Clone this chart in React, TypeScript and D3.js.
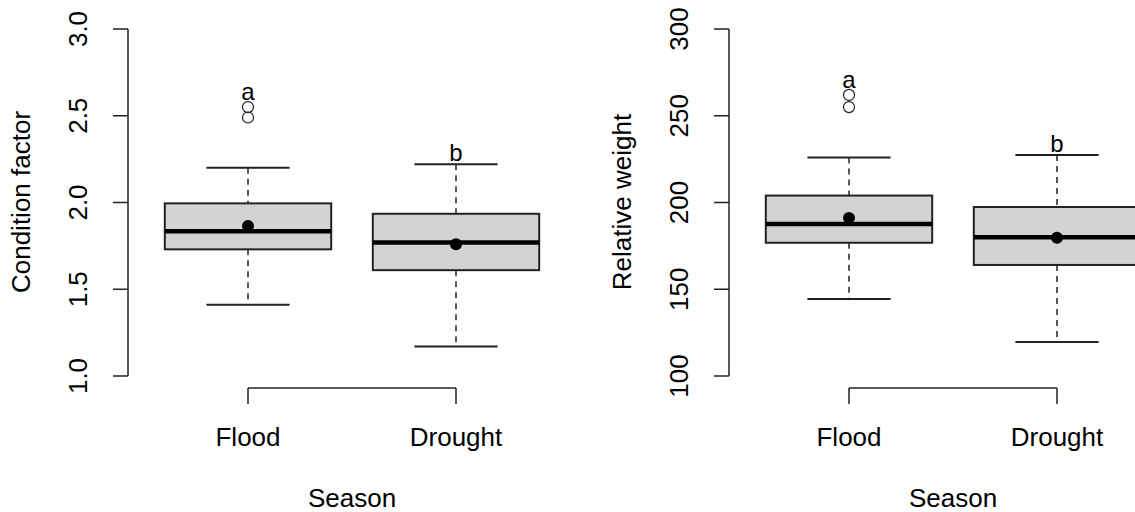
import React from "react";
import * as d3 from "d3";

const categories = ["Flood", "Drought"];
const letters = ["a", "b"];

// Condition factor
const cfQ1 = [1.73, 1.61];
const cfMedian = [1.835, 1.77];
const cfQ3 = [1.995, 1.935];
const cfLow = [1.41, 1.17];
const cfHigh = [2.2, 2.22];
const cfMean = [1.865, 1.76];
const cfOutliers = [[2.49, 2.55], []];
const cfTicks = [1.0, 1.5, 2.0, 2.5, 3.0];

// Relative weight
const rwQ1 = [176.8, 164];
const rwMedian = [187.6, 180];
const rwQ3 = [204, 197.4];
const rwLow = [144.4, 119.6];
const rwHigh = [226, 227.4];
const rwMean = [191, 179.7];
const rwOutliers = [[255, 262], []];
const rwTicks = [100, 150, 200, 250, 300];

const FONT = "'Liberation Sans', Arial, sans-serif";
const STROKE = "#222";

type PanelProps = {
  offsetX: number;
  yTitle: string;
  ticks: number[];
  fmt: (v: number) => string;
  q1: number[];
  median: number[];
  q3: number[];
  low: number[];
  high: number[];
  mean: number[];
  outliers: number[][];
};

function Panel(p: PanelProps) {
  const x = d3.scaleLinear().domain([0.5, 2.5]).range([144 + p.offsetX, 560 + p.offsetX]);
  const y = d3
    .scaleLinear()
    .domain([p.ticks[0], p.ticks[p.ticks.length - 1]])
    .range([376, 29]);
  const axisX = 128 + p.offsetX;
  const unit = x(2) - x(1);
  const boxHalf = 0.4 * unit;
  const capHalf = 0.2 * unit;
  const fs = 26;
  return (
    <g>
      {/* y axis */}
      <line x1={axisX} x2={axisX} y1={y(p.ticks[0])} y2={y(p.ticks[p.ticks.length - 1])} stroke={STROKE} strokeWidth={1.5} />
      {p.ticks.map((t) => (
        <g key={t}>
          <line x1={axisX - 15} x2={axisX} y1={y(t)} y2={y(t)} stroke={STROKE} strokeWidth={1.5} />
          <text
            transform={`translate(${axisX - 41},${y(t)}) rotate(-90)`}
            textAnchor="middle"
            fontSize={fs}
            fontFamily={FONT}
            fill="#000"
          >
            {p.fmt(t)}
          </text>
        </g>
      ))}
      <text
        transform={`translate(${30 + p.offsetX},${202}) rotate(-90)`}
        textAnchor="middle"
        fontSize={fs}
        fontFamily={FONT}
        fill="#000"
      >
        {p.yTitle}
      </text>
      {/* x axis */}
      <line x1={x(1)} x2={x(2)} y1={388} y2={388} stroke={STROKE} strokeWidth={1.5} />
      {categories.map((c, i) => (
        <g key={c}>
          <line x1={x(i + 1)} x2={x(i + 1)} y1={388} y2={404} stroke={STROKE} strokeWidth={1.5} />
          <text x={x(i + 1)} y={446} textAnchor="middle" fontSize={fs} fontFamily={FONT} fill="#000">
            {c}
          </text>
        </g>
      ))}
      <text x={(x(1) + x(2)) / 2} y={507} textAnchor="middle" fontSize={fs} fontFamily={FONT} fill="#000">
        Season
      </text>
      {/* boxes */}
      {categories.map((c, i) => {
        const cx = x(i + 1);
        const outs = p.outliers[i];
        const topVal = Math.max(p.high[i], ...outs);
        const letterY = y(topVal) - (outs.length ? 7 : 3);
        return (
          <g key={c}>
            <line x1={cx} x2={cx} y1={y(p.high[i])} y2={y(p.q3[i])} stroke={STROKE} strokeWidth={1.5} strokeDasharray="6,5" />
            <line x1={cx} x2={cx} y1={y(p.q1[i])} y2={y(p.low[i])} stroke={STROKE} strokeWidth={1.5} strokeDasharray="6,5" />
            <line x1={cx - capHalf} x2={cx + capHalf} y1={y(p.high[i])} y2={y(p.high[i])} stroke={STROKE} strokeWidth={2} />
            <line x1={cx - capHalf} x2={cx + capHalf} y1={y(p.low[i])} y2={y(p.low[i])} stroke={STROKE} strokeWidth={2} />
            <rect
              x={cx - boxHalf}
              y={y(p.q3[i])}
              width={2 * boxHalf}
              height={y(p.q1[i]) - y(p.q3[i])}
              fill="#d3d3d3"
              stroke={STROKE}
              strokeWidth={2}
            />
            <line x1={cx - boxHalf} x2={cx + boxHalf} y1={y(p.median[i])} y2={y(p.median[i])} stroke="#000" strokeWidth={4.5} />
            <circle cx={cx} cy={y(p.mean[i])} r={6} fill="#000" />
            {outs.map((o, k) => (
              <circle key={k} cx={cx} cy={y(o)} r={5.5} fill="none" stroke={STROKE} strokeWidth={1.2} />
            ))}
            <text x={cx} y={letterY} textAnchor="middle" fontSize={24} fontFamily={FONT} fill="#000">
              {letters[i]}
            </text>
          </g>
        );
      })}
    </g>
  );
}

export default function App() {
  return (
    <svg
      width={1135}
      height={512}
      style={{ position: "absolute", left: 0, top: 0, background: "#fff" }}
    >
      <rect width={1135} height={512} fill="#fff" />
      <Panel
        offsetX={0}
        yTitle="Condition factor"
        ticks={cfTicks}
        fmt={(v) => v.toFixed(1)}
        q1={cfQ1}
        median={cfMedian}
        q3={cfQ3}
        low={cfLow}
        high={cfHigh}
        mean={cfMean}
        outliers={cfOutliers}
      />
      <Panel
        offsetX={601}
        yTitle="Relative weight"
        ticks={rwTicks}
        fmt={(v) => String(v)}
        q1={rwQ1}
        median={rwMedian}
        q3={rwQ3}
        low={rwLow}
        high={rwHigh}
        mean={rwMean}
        outliers={rwOutliers}
      />
    </svg>
  );
}
